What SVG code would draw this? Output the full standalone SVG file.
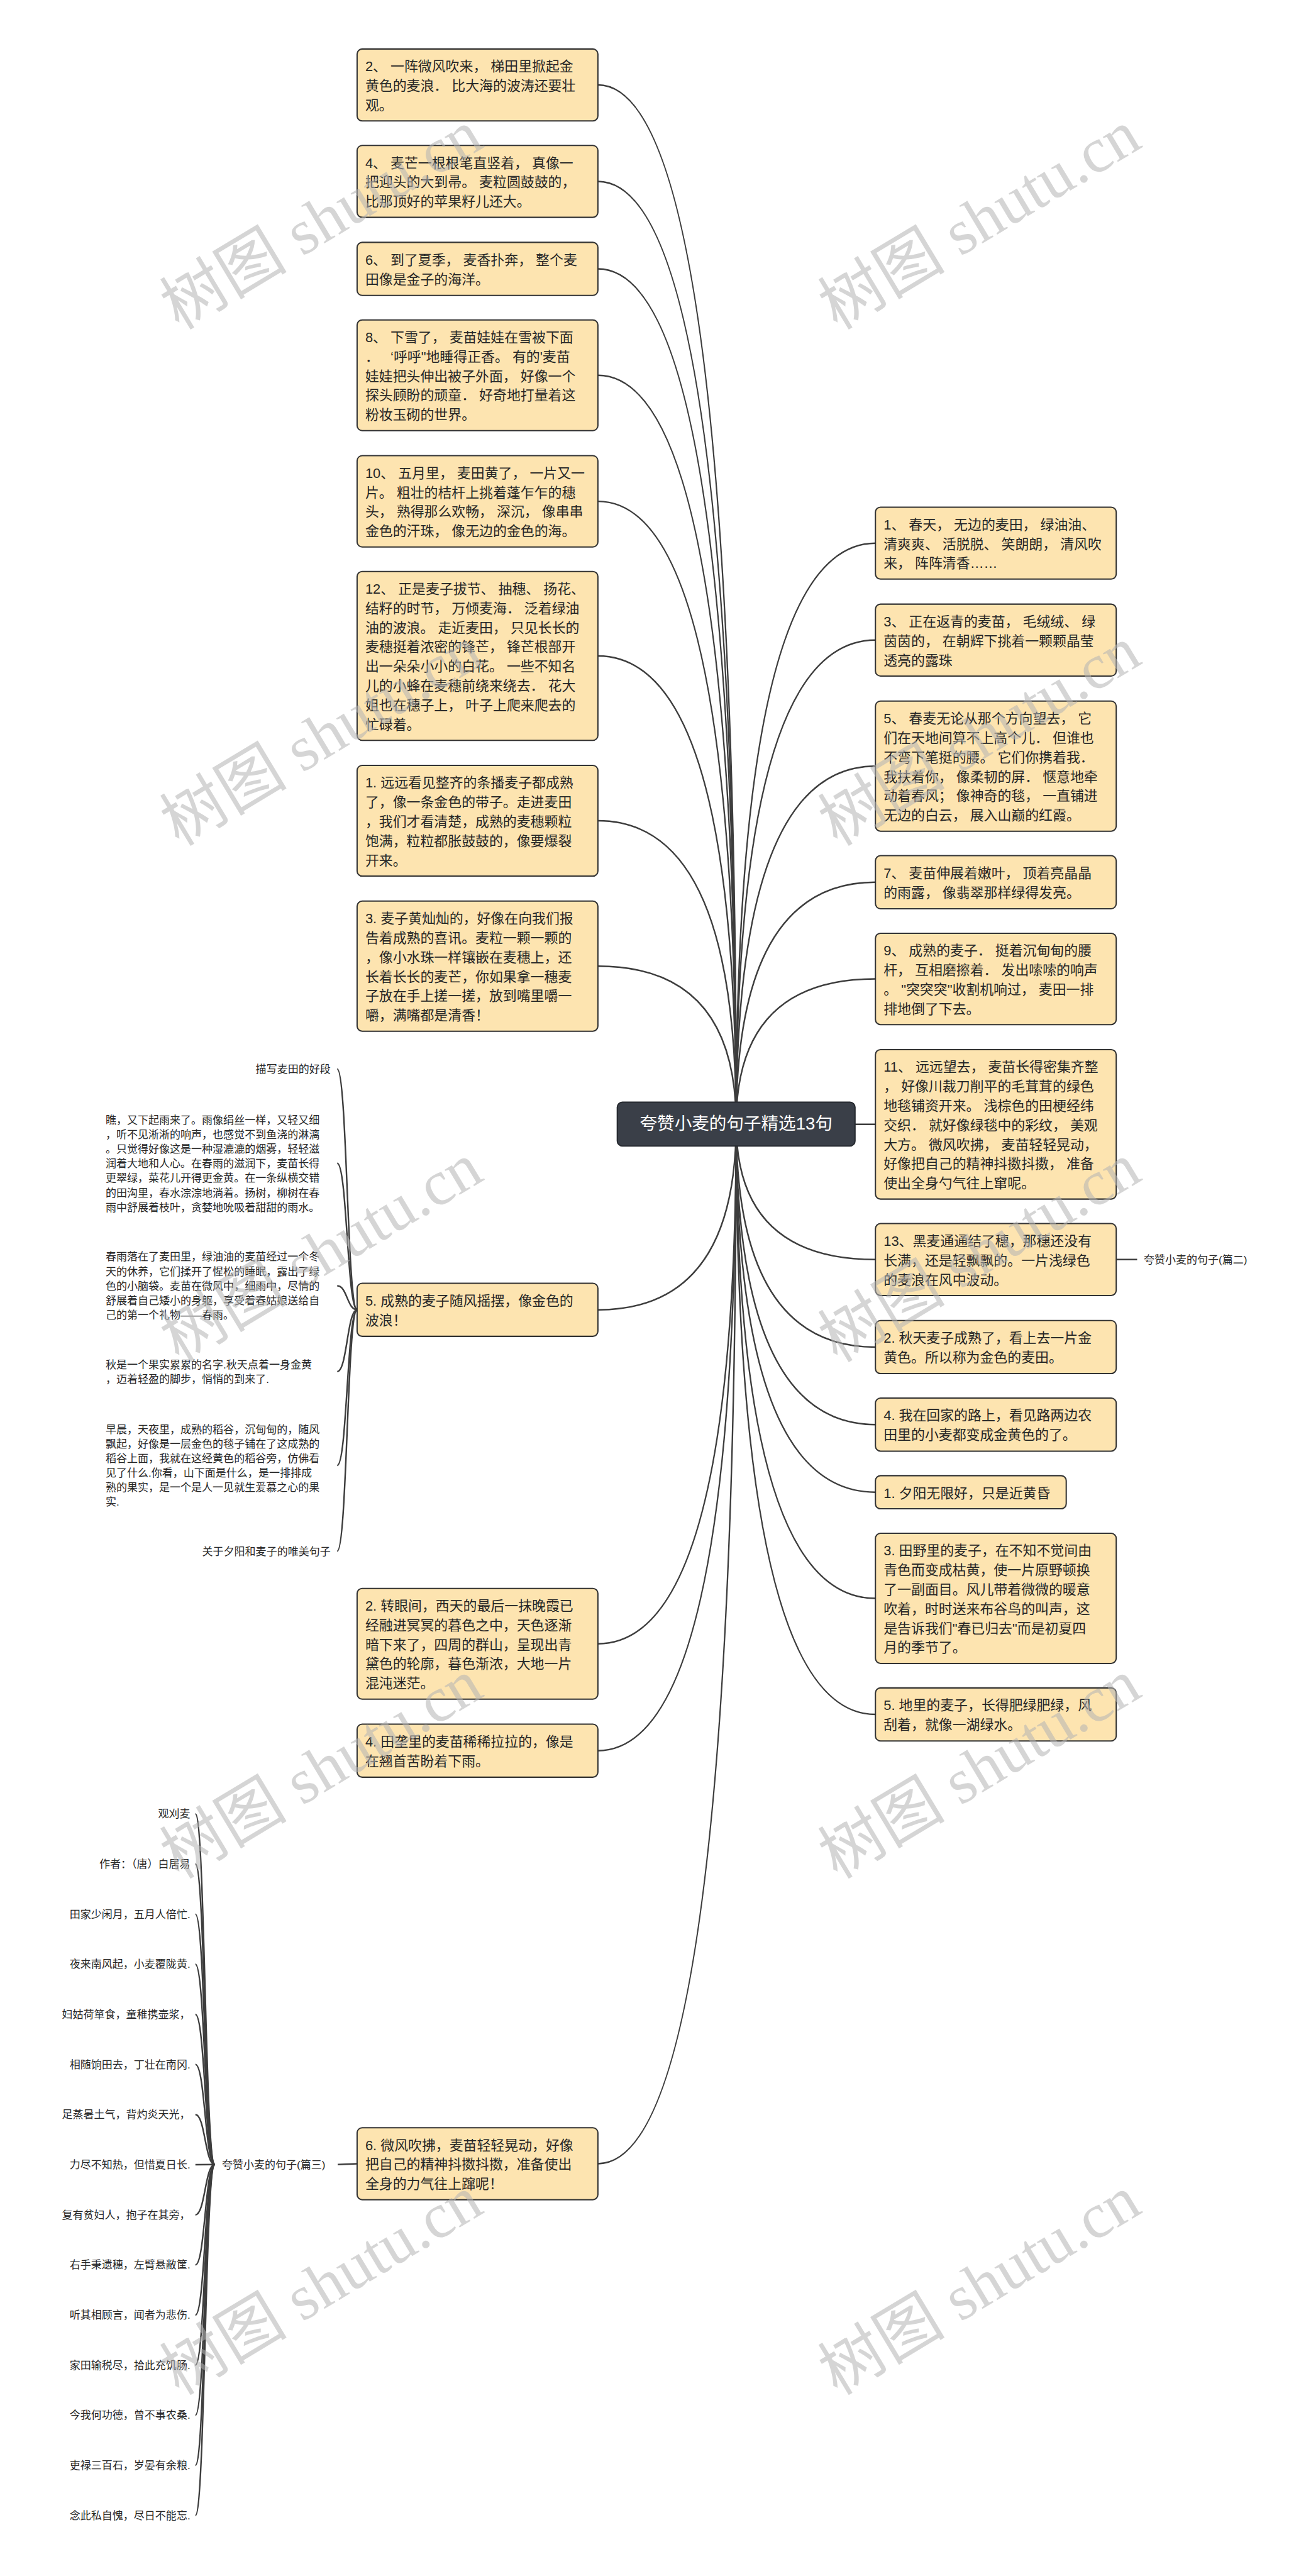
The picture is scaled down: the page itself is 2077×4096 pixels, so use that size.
<svg xmlns="http://www.w3.org/2000/svg" width="2077" height="4096" viewBox="0 0 2077 4096">
<style>
.box{fill:#fde4b0;stroke:#333;stroke-width:2.5}
.t{font-family:'Liberation Sans','Noto Sans CJK SC',sans-serif;font-size:27px;fill:#262626}
.s{font-family:'Liberation Sans','Noto Sans CJK SC',sans-serif;font-size:21px;fill:#262626}
.c{fill:none;stroke:#3d3d3d;stroke-width:3}
.wm{font-family:'Liberation Serif','Noto Sans CJK SC',serif;font-size:125px;fill:#b4b4b4;opacity:.55}
</style>
<rect width="2077" height="4096" fill="#fff"/>
<g transform="scale(0.81133)">
<g id="connectors">
<path class="c" d="M1443 2202 Q1443 166.5 1172 166.5"/>
<path class="c" d="M1443 2202 Q1443 355.5 1172 355.5"/>
<path class="c" d="M1443 2202 Q1443 527 1172 527"/>
<path class="c" d="M1443 2202 Q1443 735.5 1172 735.5"/>
<path class="c" d="M1443 2202 Q1443 982.5 1172 982.5"/>
<path class="c" d="M1443 2202 Q1443 1285.5 1172 1285.5"/>
<path class="c" d="M1443 2202 Q1443 1608.5 1172 1608.5"/>
<path class="c" d="M1443 2202 Q1443 1893.5 1172 1893.5"/>
<path class="c" d="M1443 2202 Q1443 2567 1172 2567"/>
<path class="c" d="M1443 2202 Q1443 3221.5 1172 3221.5"/>
<path class="c" d="M1443 2202 Q1443 3431 1172 3431"/>
<path class="c" d="M1443 2202 Q1443 4240.5 1172 4240.5"/>
<path class="c" d="M1443 2202 Q1443 1064.5 1716 1064.5"/>
<path class="c" d="M1443 2202 Q1443 1254.5 1716 1254.5"/>
<path class="c" d="M1443 2202 Q1443 1501.5 1716 1501.5"/>
<path class="c" d="M1443 2202 Q1443 1729 1716 1729"/>
<path class="c" d="M1443 2202 Q1443 1918.5 1716 1918.5"/>
<path class="c" d="M1443 2202 Q1443 2203.5 1716 2203.5"/>
<path class="c" d="M1443 2202 Q1443 2468.5 1716 2468.5"/>
<path class="c" d="M1443 2202 Q1443 2640 1716 2640"/>
<path class="c" d="M1443 2202 Q1443 2792 1716 2792"/>
<path class="c" d="M1443 2202 Q1443 2924.5 1716 2924.5"/>
<path class="c" d="M1443 2202 Q1443 3132.5 1716 3132.5"/>
<path class="c" d="M1443 2202 Q1443 3360 1716 3360"/>
<path class="c" d="M2188 2468.5 L2229 2468.5"/>
<path class="c" d="M700 2567 C680.5 2567 680.5 2095 661 2095"/>
<path class="c" d="M700 2567 C680.5 2567 680.5 2280 661 2280"/>
<path class="c" d="M700 2567 C680.5 2567 680.5 2520 661 2520"/>
<path class="c" d="M700 2567 C680.5 2567 680.5 2688 661 2688"/>
<path class="c" d="M700 2567 C680.5 2567 680.5 2872 661 2872"/>
<path class="c" d="M700 2567 C680.5 2567 680.5 3040 661 3040"/>
<path class="c" d="M700 4240.5 L662 4242"/>
<path class="c" d="M421 4242 C402 4242 402 3555 383 3555"/>
<path class="c" d="M421 4242 C402 4242 402 3653.2 383 3653.2"/>
<path class="c" d="M421 4242 C402 4242 402 3751.4 383 3751.4"/>
<path class="c" d="M421 4242 C402 4242 402 3849.6 383 3849.6"/>
<path class="c" d="M421 4242 C402 4242 402 3947.8 383 3947.8"/>
<path class="c" d="M421 4242 C402 4242 402 4046 383 4046"/>
<path class="c" d="M421 4242 C402 4242 402 4144.2 383 4144.2"/>
<path class="c" d="M421 4242 L383 4242.4"/>
<path class="c" d="M421 4242 C402 4242 402 4340.6 383 4340.6"/>
<path class="c" d="M421 4242 C402 4242 402 4438.8 383 4438.8"/>
<path class="c" d="M421 4242 C402 4242 402 4537 383 4537"/>
<path class="c" d="M421 4242 C402 4242 402 4635.2 383 4635.2"/>
<path class="c" d="M421 4242 C402 4242 402 4733.4 383 4733.4"/>
<path class="c" d="M421 4242 C402 4242 402 4831.6 383 4831.6"/>
<path class="c" d="M421 4242 C402 4242 402 4929.8 383 4929.8"/>
</g>

<g id="center">
<rect x="1210" y="2160" width="466" height="86" rx="10" fill="#3a3f48" stroke="#262a30" stroke-width="2.5"/>
<text x="1443" y="2214" text-anchor="middle" style="font-family:'Liberation Sans','Noto Sans CJK SC',sans-serif;font-size:34px;fill:#fff">夸赞小麦的句子精选13句</text>
</g>

<g id="L2"><rect class="box" x="700" y="96" width="472" height="141" rx="10"/>
<text class="t"><tspan x="716" y="139.5">2、 一阵微风吹来， 梯田里掀起金</tspan><tspan x="716" y="177.5">黄色的麦浪． 比大海的波涛还要壮</tspan><tspan x="716" y="215.5">观。</tspan></text></g>
<g id="L4"><rect class="box" x="700" y="285" width="472" height="141" rx="10"/>
<text class="t"><tspan x="716" y="328.5">4、 麦芒一根根笔直竖着， 真像一</tspan><tspan x="716" y="366.5">把迎头的大到帚。 麦粒圆鼓鼓的，</tspan><tspan x="716" y="404.5">比那顶好的苹果籽儿还大。</tspan></text></g>
<g id="L6"><rect class="box" x="700" y="475" width="472" height="104" rx="10"/>
<text class="t"><tspan x="716" y="518.5">6、 到了夏季， 麦香扑奔， 整个麦</tspan><tspan x="716" y="556.5">田像是金子的海洋。</tspan></text></g>
<g id="L8"><rect class="box" x="700" y="627" width="472" height="217" rx="10"/>
<text class="t"><tspan x="716" y="670.5">8、 下雪了， 麦苗娃娃在雪被下面</tspan><tspan x="716" y="708.5">．&#160;&#160;&#160;‘呼呼"地睡得正香。 有的'麦苗</tspan><tspan x="716" y="746.5">娃娃把头伸出被子外面， 好像一个</tspan><tspan x="716" y="784.5">探头顾盼的顽童． 好奇地打量着这</tspan><tspan x="716" y="822.5">粉妆玉砌的世界。</tspan></text></g>
<g id="L10"><rect class="box" x="700" y="893" width="472" height="179" rx="10"/>
<text class="t"><tspan x="716" y="936.5">10、 五月里， 麦田黄了， 一片又一</tspan><tspan x="716" y="974.5">片。 粗壮的桔杆上挑着蓬乍乍的穗</tspan><tspan x="716" y="1012.5">头， 熟得那么欢畅， 深沉， 像串串</tspan><tspan x="716" y="1050.5">金色的汗珠， 像无边的金色的海。</tspan></text></g>
<g id="L12"><rect class="box" x="700" y="1120" width="472" height="331" rx="10"/>
<text class="t"><tspan x="716" y="1163.5">12、 正是麦子拔节、 抽穗、 扬花、</tspan><tspan x="716" y="1201.5">结籽的时节， 万倾麦海． 泛着绿油</tspan><tspan x="716" y="1239.5">油的波浪。 走近麦田， 只见长长的</tspan><tspan x="716" y="1277.5">麦穗挺着浓密的锋芒， 锋芒根部开</tspan><tspan x="716" y="1315.5">出一朵朵小小的白花。 一些不知名</tspan><tspan x="716" y="1353.5">儿的小蜂在麦穗前绕来绕去． 花大</tspan><tspan x="716" y="1391.5">姐也在穗子上， 叶子上爬来爬去的</tspan><tspan x="716" y="1429.5">忙碌着。</tspan></text></g>
<g id="L1"><rect class="box" x="700" y="1500" width="472" height="217" rx="10"/>
<text class="t"><tspan x="716" y="1543.5">1. 远远看见整齐的条播麦子都成熟</tspan><tspan x="716" y="1581.5">了，像一条金色的带子。走进麦田</tspan><tspan x="716" y="1619.5">，我们才看清楚，成熟的麦穗颗粒</tspan><tspan x="716" y="1657.5">饱满，粒粒都胀鼓鼓的，像要爆裂</tspan><tspan x="716" y="1695.5">开来。</tspan></text></g>
<g id="L3"><rect class="box" x="700" y="1766" width="472" height="255" rx="10"/>
<text class="t"><tspan x="716" y="1809.5">3. 麦子黄灿灿的，好像在向我们报</tspan><tspan x="716" y="1847.5">告着成熟的喜讯。麦粒一颗一颗的</tspan><tspan x="716" y="1885.5">，像小水珠一样镶嵌在麦穗上，还</tspan><tspan x="716" y="1923.5">长着长长的麦芒，你如果拿一穗麦</tspan><tspan x="716" y="1961.5">子放在手上搓一搓，放到嘴里嚼一</tspan><tspan x="716" y="1999.5">嚼，满嘴都是清香！</tspan></text></g>
<g id="L5"><rect class="box" x="700" y="2515" width="472" height="104" rx="10"/>
<text class="t"><tspan x="716" y="2558.5">5. 成熟的麦子随风摇摆，像金色的</tspan><tspan x="716" y="2596.5">波浪！</tspan></text></g>
<g id="L2b"><rect class="box" x="700" y="3113" width="472" height="217" rx="10"/>
<text class="t"><tspan x="716" y="3156.5">2. 转眼间，西天的最后一抹晚霞已</tspan><tspan x="716" y="3194.5">经融进冥冥的暮色之中，天色逐渐</tspan><tspan x="716" y="3232.5">暗下来了，四周的群山，呈现出青</tspan><tspan x="716" y="3270.5">黛色的轮廓，暮色渐浓，大地一片</tspan><tspan x="716" y="3308.5">混沌迷茫。</tspan></text></g>
<g id="L4b"><rect class="box" x="700" y="3379" width="472" height="104" rx="10"/>
<text class="t"><tspan x="716" y="3422.5">4. 田垄里的麦苗稀稀拉拉的，像是</tspan><tspan x="716" y="3460.5">在翘首苦盼着下雨。</tspan></text></g>
<g id="L6b"><rect class="box" x="700" y="4170" width="472" height="141" rx="10"/>
<text class="t"><tspan x="716" y="4213.5">6. 微风吹拂，麦苗轻轻晃动，好像</tspan><tspan x="716" y="4251.5">把自己的精神抖擞抖擞，准备使出</tspan><tspan x="716" y="4289.5">全身的力气往上蹿呢！</tspan></text></g>

<g id="R1"><rect class="box" x="1716" y="994" width="472" height="141" rx="10"/>
<text class="t"><tspan x="1732" y="1037.5">1、 春天， 无边的麦田， 绿油油、</tspan><tspan x="1732" y="1075.5">清爽爽、 活脱脱、 笑朗朗， 清风吹</tspan><tspan x="1732" y="1113.5">来， 阵阵清香……</tspan></text></g>
<g id="R3"><rect class="box" x="1716" y="1184" width="472" height="141" rx="10"/>
<text class="t"><tspan x="1732" y="1227.5">3、 正在返青的麦苗， 毛绒绒、 绿</tspan><tspan x="1732" y="1265.5">茵茵的， 在朝辉下挑着一颗颗晶莹</tspan><tspan x="1732" y="1303.5">透亮的露珠</tspan></text></g>
<g id="R5"><rect class="box" x="1716" y="1374" width="472" height="255" rx="10"/>
<text class="t"><tspan x="1732" y="1417.5">5、 春麦无论从那个方向望去， 它</tspan><tspan x="1732" y="1455.5">们在天地间算不上高个儿． 但谁也</tspan><tspan x="1732" y="1493.5">不弯下笔挺的腰。 它们你携着我．</tspan><tspan x="1732" y="1531.5">我扶着你， 像柔韧的屏． 惬意地牵</tspan><tspan x="1732" y="1569.5">动着春风； 像神奇的毯， 一直铺进</tspan><tspan x="1732" y="1607.5">无边的白云， 展入山巅的红霞。</tspan></text></g>
<g id="R7"><rect class="box" x="1716" y="1677" width="472" height="104" rx="10"/>
<text class="t"><tspan x="1732" y="1720.5">7、 麦苗伸展着嫩叶， 顶着亮晶晶</tspan><tspan x="1732" y="1758.5">的雨露， 像翡翠那样绿得发亮。</tspan></text></g>
<g id="R9"><rect class="box" x="1716" y="1829" width="472" height="179" rx="10"/>
<text class="t"><tspan x="1732" y="1872.5">9、 成熟的麦子． 挺着沉甸甸的腰</tspan><tspan x="1732" y="1910.5">杆， 互相磨擦着． 发出嗦嗦的响声</tspan><tspan x="1732" y="1948.5">。 "突突突"收割机响过， 麦田一排</tspan><tspan x="1732" y="1986.5">排地倒了下去。</tspan></text></g>
<g id="R11"><rect class="box" x="1716" y="2057" width="472" height="293" rx="10"/>
<text class="t"><tspan x="1732" y="2100.5">11、 远远望去， 麦苗长得密集齐整</tspan><tspan x="1732" y="2138.5">， 好像川裁刀削平的毛茸茸的绿色</tspan><tspan x="1732" y="2176.5">地毯铺资开来。 浅棕色的田梗经纬</tspan><tspan x="1732" y="2214.5">交织． 就好像绿毯中的彩纹， 美观</tspan><tspan x="1732" y="2252.5">大方。 微风吹拂， 麦苗轻轻晃动，</tspan><tspan x="1732" y="2290.5">好像把自己的精神抖擞抖擞， 准备</tspan><tspan x="1732" y="2328.5">使出全身勺气往上窜呢。</tspan></text></g>
<g id="R13"><rect class="box" x="1716" y="2398" width="472" height="141" rx="10"/>
<text class="t"><tspan x="1732" y="2441.5">13、黑麦通通结了穗，那穗还没有</tspan><tspan x="1732" y="2479.5">长满，还是轻飘飘的。一片浅绿色</tspan><tspan x="1732" y="2517.5">的麦浪在风中波动。</tspan></text></g>
<g id="R2"><rect class="box" x="1716" y="2588" width="472" height="104" rx="10"/>
<text class="t"><tspan x="1732" y="2631.5">2. 秋天麦子成熟了，看上去一片金</tspan><tspan x="1732" y="2669.5">黄色。所以称为金色的麦田。</tspan></text></g>
<g id="R4"><rect class="box" x="1716" y="2740" width="472" height="104" rx="10"/>
<text class="t"><tspan x="1732" y="2783.5">4. 我在回家的路上，看见路两边农</tspan><tspan x="1732" y="2821.5">田里的小麦都变成金黄色的了。</tspan></text></g>
<g id="R1b"><rect class="box" x="1716" y="2892" width="374" height="65" rx="10"/>
<text class="t" x="1732" y="2935.5">1. 夕阳无限好，只是近黄昏</text></g>
<g id="R3b"><rect class="box" x="1716" y="3005" width="472" height="255" rx="10"/>
<text class="t"><tspan x="1732" y="3048.5">3. 田野里的麦子，在不知不觉间由</tspan><tspan x="1732" y="3086.5">青色而变成枯黄，使一片原野顿换</tspan><tspan x="1732" y="3124.5">了一副面目。风儿带着微微的暖意</tspan><tspan x="1732" y="3162.5">吹着，时时送来布谷鸟的叫声，这</tspan><tspan x="1732" y="3200.5">是告诉我们"春已归去"而是初夏四</tspan><tspan x="1732" y="3238.5">月的季节了。</tspan></text></g>
<g id="R5b"><rect class="box" x="1716" y="3308" width="472" height="104" rx="10"/>
<text class="t"><tspan x="1732" y="3351.5">5. 地里的麦子，长得肥绿肥绿，风</tspan><tspan x="1732" y="3389.5">刮着，就像一湖绿水。</tspan></text></g>

<g id="label-pian2"><text class="s" x="2242" y="2476">夸赞小麦的句子(篇二)</text></g>
<g id="label-pian3"><text class="s" x="435" y="4249.5">夸赞小麦的句子(篇三)</text></g>

<g id="small-texts">
<text class="s" x="648" y="2102.5" text-anchor="end">描写麦田的好段</text>
<text class="s"><tspan x="207" y="2202.5">瞧，又下起雨来了。雨像绢丝一样，又轻又细</tspan><tspan x="207" y="2231">，听不见淅淅的响声，也感觉不到鱼浇的淋漓</tspan><tspan x="207" y="2259.5">。只觉得好像这是一种湿漉漉的烟雾，轻轻滋</tspan><tspan x="207" y="2288">润着大地和人心。在春雨的滋润下，麦苗长得</tspan><tspan x="207" y="2316.5">更翠绿，菜花儿开得更金黄。在一条纵横交错</tspan><tspan x="207" y="2345">的田沟里，春水淙淙地淌着。扬树，柳树在春</tspan><tspan x="207" y="2373.5">雨中舒展着枝叶，贪婪地吮吸着甜甜的雨水。</tspan></text>
<text class="s"><tspan x="207" y="2470.5">春雨落在了麦田里，绿油油的麦苗经过一个冬</tspan><tspan x="207" y="2499">天的休养，它们揉开了惺松的睡眠，露出了绿</tspan><tspan x="207" y="2527.5">色的小脑袋。麦苗在微风中，细雨中，尽情的</tspan><tspan x="207" y="2556">舒展着自己矮小的身躯，享受着春姑娘送给自</tspan><tspan x="207" y="2584.5">己的第一个礼物——春雨。</tspan></text>
<text class="s"><tspan x="207" y="2681.5">秋是一个果实累累的名字.秋天点着一身金黄</tspan><tspan x="207" y="2710">，迈着轻盈的脚步，悄悄的到来了.</tspan></text>
<text class="s"><tspan x="207" y="2808.5">早晨，天夜里，成熟的稻谷，沉甸甸的，随风</tspan><tspan x="207" y="2837">飘起，好像是一层金色的毯子铺在了这成熟的</tspan><tspan x="207" y="2865.5">稻谷上面，我就在这经黄色的稻谷旁，仿佛看</tspan><tspan x="207" y="2894">见了什么.你看，山下面是什么，是一排排成</tspan><tspan x="207" y="2922.5">熟的果实，是一个是人一见就生爱慕之心的果</tspan><tspan x="207" y="2951">实.</tspan></text>
<text class="s" x="648" y="3047.5" text-anchor="end">关于夕阳和麦子的唯美句子</text>
</g>

<g id="poem" text-anchor="end">
<text class="s" x="373" y="3562.5">观刈麦</text>
<text class="s" x="373" y="3660.7">作者：（唐）白居易</text>
<text class="s" x="373" y="3758.9">田家少闲月，五月人倍忙.</text>
<text class="s" x="373" y="3857.1">夜来南风起，小麦覆陇黄.</text>
<text class="s" x="373" y="3955.3">妇姑荷箪食，童稚携壶浆，</text>
<text class="s" x="373" y="4053.5">相随饷田去，丁壮在南冈.</text>
<text class="s" x="373" y="4151.7">足蒸暑土气，背灼炎天光，</text>
<text class="s" x="373" y="4249.9">力尽不知热，但惜夏日长.</text>
<text class="s" x="373" y="4348.1">复有贫妇人，抱子在其旁，</text>
<text class="s" x="373" y="4446.3">右手秉遗穗，左臂悬敝筐.</text>
<text class="s" x="373" y="4544.5">听其相顾言，闻者为悲伤.</text>
<text class="s" x="373" y="4642.7">家田输税尽，拾此充饥肠.</text>
<text class="s" x="373" y="4740.9">今我何功德，曾不事农桑.</text>
<text class="s" x="373" y="4839.1">吏禄三百石，岁晏有余粮.</text>
<text class="s" x="373" y="4937.3">念此私自愧，尽日不能忘.</text>
</g>

<g id="watermarks">
<text class="wm" x="351" y="648" transform="rotate(-31 351 648)">树图 shutu.cn</text>
<text class="wm" x="351" y="1660" transform="rotate(-31 351 1660)">树图 shutu.cn</text>
<text class="wm" x="351" y="2672" transform="rotate(-31 351 2672)">树图 shutu.cn</text>
<text class="wm" x="351" y="3684" transform="rotate(-31 351 3684)">树图 shutu.cn</text>
<text class="wm" x="351" y="4696" transform="rotate(-31 351 4696)">树图 shutu.cn</text>
<text class="wm" x="1641" y="648" transform="rotate(-31 1641 648)">树图 shutu.cn</text>
<text class="wm" x="1641" y="1660" transform="rotate(-31 1641 1660)">树图 shutu.cn</text>
<text class="wm" x="1641" y="2672" transform="rotate(-31 1641 2672)">树图 shutu.cn</text>
<text class="wm" x="1641" y="3684" transform="rotate(-31 1641 3684)">树图 shutu.cn</text>
<text class="wm" x="1641" y="4696" transform="rotate(-31 1641 4696)">树图 shutu.cn</text>
</g>
</g>
</svg>
